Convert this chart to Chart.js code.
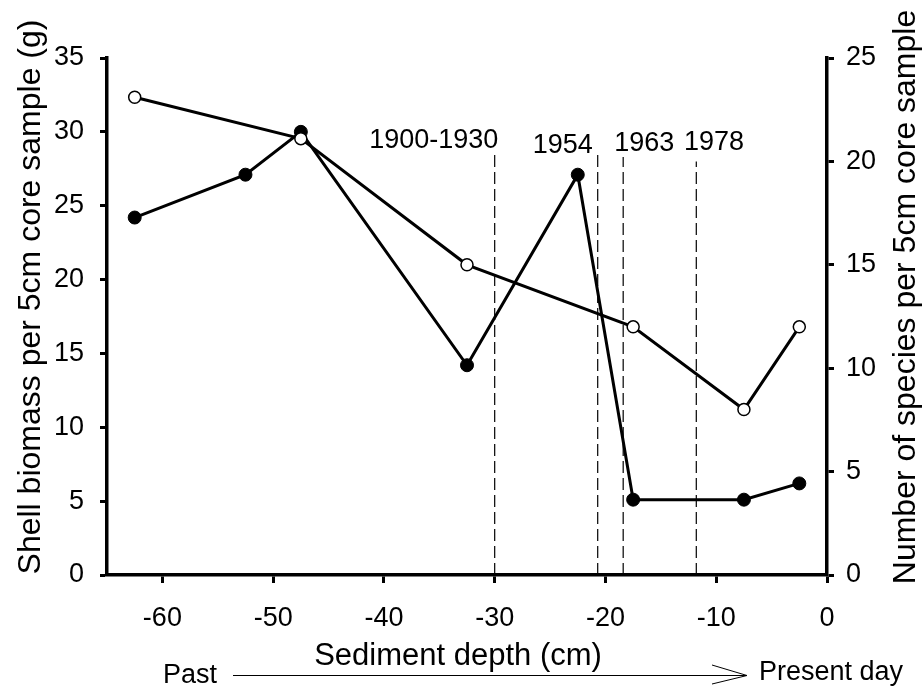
<!DOCTYPE html>
<html>
<head>
<meta charset="utf-8">
<script src="https://cdn.jsdelivr.net/npm/chart.js@4.4.1/dist/chart.umd.min.js"></script>
<style>
  html, body { margin: 0; padding: 0; background: #fff; overflow: hidden; }
  #wrap { width: 923px; height: 690px; }
</style>
</head>
<body>
<div id="wrap"><canvas id="chart"></canvas></div>
<script>
// sediment core samples: depth (cm) of each 5cm slice
const biomassDepth = [-62.5, -52.5, -47.5, -32.5, -22.5, -17.5, -7.5, -2.5];
const biomass = [24.2, 27.1, 30.0, 14.2, 27.1, 5.1, 5.1, 6.2];
const speciesDepth = [-62.5, -47.5, -32.5, -17.5, -7.5, -2.5];
const species = [23.1, 21.1, 15, 12, 8, 12];

// dated horizons (dashed markers)
const eventDepth = [-30, -20.7, -18.4, -11.8];
const eventTop = [28.5, 28.5, 28.3, 28.0];
const eventLabels = ["1900-1930", "1954", "1963", "1978"];
const eventLabelX = [-35.5, -23.85, -16.5, -10.2];
const eventLabelY = [28.9, 28.6, 28.7, 28.8];

const xTicks = [-60, -50, -40, -30, -20, -10, 0];
const leftTicks = [0, 5, 10, 15, 20, 25, 30, 35];
const rightTicks = [0, 5, 10, 15, 20, 25];

const FONT = "'Liberation Sans', Arial, sans-serif";

const markerSets = eventDepth.map((d, i) => ({
    data: [{ x: d, y: 0 }, { x: d, y: eventTop[i] }],
    yAxisID: "y",
    borderColor: "#000",
    borderWidth: 1.2,
    borderDash: [12, 5],
    pointRadius: 0,
    order: 3
}));

// titles, horizon labels and the time arrow
const decorations = {
    id: "decorations",
    afterDraw(chart) {
        const { ctx, scales: { x, y } } = chart;
        ctx.save();
        ctx.fillStyle = "#000";
        ctx.strokeStyle = "#000";

        ctx.font = `27px ${FONT}`;
        ctx.textAlign = "center";
        ctx.textBaseline = "alphabetic";
        eventLabels.forEach((t, i) => {
            ctx.fillText(t, x.getPixelForValue(eventLabelX[i]), y.getPixelForValue(eventLabelY[i]));
        });

        // x title
        ctx.font = `31px ${FONT}`;
        ctx.fillText("Sediment depth (cm)", 458, 665);

        // rotated y titles
        ctx.font = `32px ${FONT}`;
        ctx.save();
        ctx.translate(40, 297);
        ctx.rotate(-Math.PI / 2);
        ctx.fillText("Shell biomass per 5cm core sample (g)", 0, 0);
        ctx.restore();
        ctx.save();
        ctx.translate(915, 297);
        ctx.rotate(-Math.PI / 2);
        ctx.fillText("Number of species per 5cm core sample", 0, 0);
        ctx.restore();

        // Past -> Present day
        ctx.font = `27px ${FONT}`;
        ctx.textAlign = "left";
        ctx.fillText("Past", 163, 683);
        ctx.fillText("Present day", 759, 680);
        ctx.lineWidth = 1;
        ctx.beginPath();
        ctx.moveTo(233, 675.5);
        ctx.lineTo(747, 675.5);
        ctx.moveTo(712, 665);
        ctx.lineTo(747, 675.5);
        ctx.lineTo(712, 684);
        ctx.stroke();
        ctx.restore();
    }
};

const axisGrid = (len) => ({
    drawOnChartArea: false,
    drawTicks: true,
    tickLength: len,
    tickWidth: 3,
    tickColor: "#000"
});
const tickFont = { family: FONT, size: 27 };

new Chart(document.getElementById("chart"), {
    type: "line",
    data: {
        datasets: [
            {
                label: "Species",
                data: speciesDepth.map((d, i) => ({ x: d, y: species[i] })),
                yAxisID: "y2",
                borderColor: "#000",
                borderWidth: 3,
                pointRadius: 6,
                pointBackgroundColor: "#fff",
                pointBorderColor: "#000",
                pointBorderWidth: 1.5,
                order: 1
            },
            {
                label: "Biomass",
                data: biomassDepth.map((d, i) => ({ x: d, y: biomass[i] })),
                yAxisID: "y",
                borderColor: "#000",
                borderWidth: 3,
                pointRadius: 6.5,
                pointBackgroundColor: "#000",
                pointBorderColor: "#000",
                pointBorderWidth: 1,
                order: 2
            },
            ...markerSets
        ]
    },
    options: {
        responsive: true,
        maintainAspectRatio: false,
        animation: false,
        layout: { padding: { top: 58, left: 0, right: 0, bottom: 0 } },
        plugins: {
            legend: { display: false },
            tooltip: { enabled: false }
        },
        elements: { line: { tension: 0 } },
        scales: {
            x: {
                type: "linear",
                min: -65,
                max: 0,
                afterBuildTicks: s => { s.ticks = xTicks.map(v => ({ value: v })); },
                afterFit: s => { s.height = 115; },
                ticks: { color: "#000", font: tickFont, padding: 19, maxRotation: 0, autoSkip: false },
                grid: axisGrid(8),
                border: { color: "#000", width: 3.5 }
            },
            y: {
                position: "left",
                min: 0,
                max: 35,
                afterBuildTicks: s => { s.ticks = leftTicks.map(v => ({ value: v })); },
                afterFit: s => { s.width = 107; },
                ticks: { color: "#000", font: tickFont, padding: 16 },
                grid: axisGrid(7),
                border: { color: "#000", width: 3.5 }
            },
            y2: {
                position: "right",
                min: 0,
                max: 25,
                afterBuildTicks: s => { s.ticks = rightTicks.map(v => ({ value: v })); },
                afterFit: s => { s.width = 96; },
                ticks: { color: "#000", font: tickFont, padding: 12 },
                grid: axisGrid(7),
                border: { color: "#000", width: 3.5 }
            }
        }
    },
    plugins: [decorations]
});
</script>
</body>
</html>
